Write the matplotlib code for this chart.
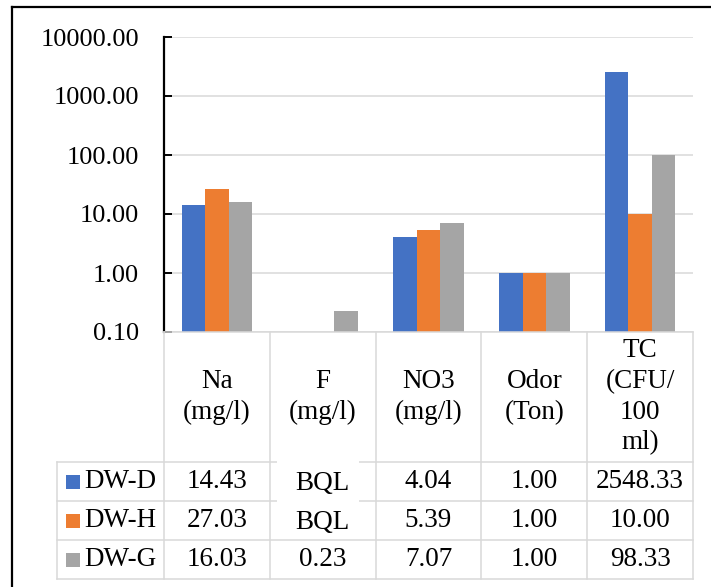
import numpy as np
import matplotlib
matplotlib.use("Agg")
import matplotlib.pyplot as plt
from matplotlib.lines import Line2D
from matplotlib.patches import Rectangle
from matplotlib.ticker import FixedLocator, FormatStrFormatter, NullLocator

plt.rcParams['font.family'] = ['Liberation Serif', 'DejaVu Serif']

# water quality parameters (NaN = below quantification limit)
categories = ["Na\n(mg/l)", "F\n(mg/l)", "NO3\n(mg/l)", "Odor\n(Ton)", "TC\n(CFU/\n100\nml)"]
series_names = ["DW-D", "DW-H", "DW-G"]
dw_d = [14.43, np.nan, 4.04, 1.00, 2548.33]
dw_h = [27.03, np.nan, 5.39, 1.00, 10.00]
dw_g = [16.03, 0.23, 7.07, 1.00, 98.33]
colors = ["#4472C4", "#ED7D31", "#A5A5A5"]
y_ticks = [0.1, 1, 10, 100, 1000, 10000]

W, H = 711, 587
FS = 19.5
FS_TICK = 19
GRID = "#d9d9d9"


def fx(px):
    return px / W


def fy(py):
    return 1 - py / H


fig = plt.figure(figsize=(W / 100, H / 100), dpi=100)

# outer frame (left and top edges only are visible)
fig.add_artist(Line2D([fx(12), fx(12)], [fy(7), 0], color="black", lw=1.6))
fig.add_artist(Line2D([fx(12), 1], [fy(7), fy(7)], color="black", lw=1.6))

# --- bar chart ---
ax = fig.add_axes([fx(164), fy(332), fx(693) - fx(164), (332 - 37) / H])
x = np.arange(len(categories))
bw = 1 / 4.5
for i, (vals, c) in enumerate(zip([dw_d, dw_h, dw_g], colors)):
    v = np.array(vals, dtype=float)
    ax.bar(x + (i - 1) * bw, np.nan_to_num(v, nan=0.0), width=bw, color=c,
           zorder=3)

ax.set_yscale("log")
ax.set_ylim(0.1, 10000)
ax.set_xlim(-0.5, len(categories) - 0.5)
ax.yaxis.set_major_locator(FixedLocator(y_ticks))
ax.yaxis.set_major_formatter(FormatStrFormatter("%.2f"))
ax.yaxis.set_minor_locator(NullLocator())
ax.set_xticks([])
ax.grid(axis="y", color=GRID, lw=1.1, zorder=0)
for s in ["top", "right", "bottom"]:
    ax.spines[s].set_visible(False)
ax.spines["left"].set_linewidth(1.6)
ax.spines["left"].set_zorder(5)
ax.tick_params(axis="y", direction="in", length=6, width=1.4, pad=18,
               labelsize=FS_TICK, colors="black")

# --- data table below the axes ---
tab = fig.add_axes([fx(164), fy(578), fx(693) - fx(164), (578 - 332) / H])
tab.set_xlim(-0.5, len(categories) - 0.5)
tab.set_ylim(246, 0)
tab.axis("off")

head_h, row_h = 130, 39
row_tops = [head_h + row_h * i for i in range(len(series_names) + 1)]
x_leg = -0.5 - 107 / 105.8
lw_t = 1.1

for b in np.arange(-0.5, len(categories), 1.0):
    tab.plot([b, b], [0, row_tops[-1]], color=GRID, lw=lw_t, clip_on=False)
tab.plot([x_leg, x_leg], [head_h, row_tops[-1]], color=GRID, lw=lw_t,
         clip_on=False)
tab.plot([-0.5, len(categories) - 0.5], [0, 0], color=GRID, lw=lw_t,
         clip_on=False)
for yt in row_tops:
    tab.plot([x_leg, len(categories) - 0.5], [yt, yt], color=GRID, lw=lw_t,
             clip_on=False)

# blank patch over the F cells where BQL is written
tab.add_patch(Rectangle((0.568, 122), 1.343 - 0.568, 80, facecolor="white",
                        edgecolor="none", zorder=4, clip_on=False))

for i, cat in enumerate(categories):
    tab.text(i, head_h / 2, cat, ha="center", va="center", fontsize=FS,
             linespacing=1.3, zorder=5)

for r, (name, vals, c) in enumerate(zip(series_names, [dw_d, dw_h, dw_g], colors)):
    yc = row_tops[r] + row_h / 2
    tab.add_patch(Rectangle((x_leg + 9 / 105.8, yc - 7), 14 / 105.8, 14,
                            facecolor=c, edgecolor="none", clip_on=False))
    tab.text(x_leg + 27 / 105.8, yc, name, ha="left", va="center",
             fontsize=FS, zorder=5)
    for i, v in enumerate(vals):
        label = "BQL" if np.isnan(v) else f"{v:.2f}"
        tab.text(i, yc + (2 if np.isnan(v) else 0), label, ha="center",
                 va="center", fontsize=FS, zorder=5)

fig.savefig("out.png", dpi=100)
